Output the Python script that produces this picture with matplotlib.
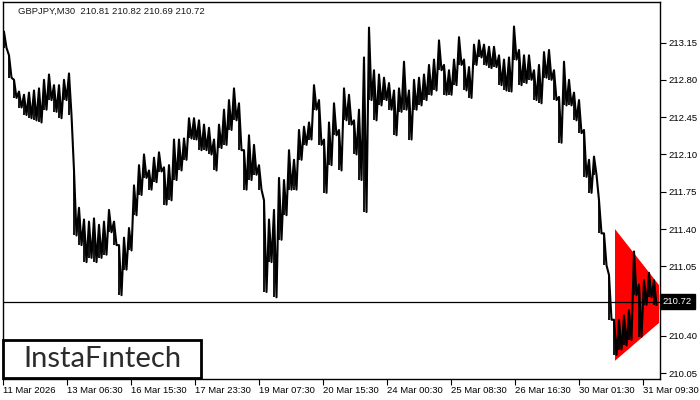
import matplotlib
matplotlib.use('Agg')
import matplotlib.pyplot as plt
from matplotlib.patches import Polygon, Rectangle

# maximos y minimos (cada 5 velas de 30 min)
maximos = [213.25, 213.03, 212.80, 212.69, 212.66, 212.68, 212.70, 212.72, 212.80, 212.85,
           212.75, 212.75, 212.80, 212.86, 211.95, 211.60, 211.49, 211.47, 211.50, 211.44,
           211.47, 211.58, 211.47, 211.25, 211.32, 211.41, 211.81, 212.00, 212.10, 211.95,
           212.07, 212.12, 211.98, 212.00, 212.24, 212.24, 212.25, 212.44, 212.44, 212.42,
           212.38, 212.35, 212.24, 212.38, 212.52, 212.61, 212.72, 212.58, 212.14, 212.28,
           212.19, 212.00, 211.67, 211.49, 211.58, 211.88, 211.86, 212.14, 212.05, 212.33,
           212.36, 212.40, 212.75, 212.61, 212.24, 212.40, 212.58, 212.33, 212.72, 212.66,
           212.42, 212.52, 213.01, 213.29, 212.89, 212.85, 212.82, 212.77, 212.70, 212.72,
           212.97, 212.70, 212.80, 212.82, 212.85, 212.94, 212.99, 213.17, 212.94, 212.89,
           212.99, 213.20, 212.99, 212.92, 213.13, 213.17, 213.13, 213.11, 213.11, 213.03,
           212.99, 213.01, 213.30, 213.08, 213.03, 213.03, 212.89, 212.94, 213.06, 213.08,
           212.89, 212.64, 212.97, 212.80, 212.68, 212.61, 212.33, 212.05, 212.08, 211.67,
           211.36, 210.97, 210.55, 210.55, 210.59, 210.64, 211.19, 210.88, 210.92, 210.99,
           210.92]
minimos = [213.10, 212.82, 212.63, 212.54, 212.47, 212.44, 212.42, 212.40, 212.52, 212.61,
           212.50, 212.44, 212.61, 212.47, 211.34, 211.25, 211.09, 211.13, 211.09, 211.13,
           211.16, 211.37, 211.25, 210.78, 211.02, 211.20, 211.53, 211.72, 211.88, 211.77,
           211.84, 211.94, 211.63, 211.67, 211.86, 211.95, 212.05, 212.25, 212.24, 212.14,
           212.14, 212.10, 211.95, 212.16, 212.19, 212.33, 212.42, 212.14, 211.77, 211.86,
           211.91, 211.77, 210.81, 211.09, 210.76, 211.30, 211.53, 211.77, 211.77, 212.05,
           212.19, 212.24, 212.52, 212.19, 211.74, 212.00, 212.28, 211.95, 212.42, 212.38,
           212.10, 211.86, 211.56, 212.61, 212.42, 212.56, 212.61, 212.52, 212.28, 212.50,
           212.52, 212.24, 212.52, 212.56, 212.61, 212.66, 212.70, 212.89, 212.66, 212.66,
           212.75, 212.94, 212.70, 212.63, 212.94, 213.01, 212.94, 212.91, 212.92, 212.75,
           212.70, 212.69, 212.99, 212.75, 212.77, 212.80, 212.61, 212.58, 212.82, 212.80,
           212.61, 212.21, 212.56, 212.56, 212.42, 212.30, 211.89, 211.74, 211.91, 211.36,
           211.06, 210.55, 210.22, 210.27, 210.31, 210.36, 210.78, 210.39, 210.69, 210.76,
           210.69]

etiquetas_x = ['11 Mar 2026', '13 Mar 06:30', '16 Mar 15:30', '17 Mar 23:30', '19 Mar 07:30',
               '20 Mar 15:30', '24 Mar 00:30', '25 Mar 08:30', '26 Mar 16:30', '30 Mar 01:30',
               '31 Mar 09:30']
precios_y = [213.15, 212.80, 212.45, 212.10, 211.75, 211.40, 211.05, 210.40, 210.05]

# triangulo simetrico (vela inicio, vela fin, techo, suelo)
tri_inicio, tri_fin = 612, 656
tri_techo = [211.40, 210.875]
tri_suelo = [210.165, 210.52]

precio_actual = 210.72
titulo = 'GBPJPY,M30  210.81 210.82 210.69 210.72'

velas_por_muestra = 5
velas_por_etiqueta = 64

x = [1 + velas_por_muestra * i for i in range(len(maximos))]
# zigzag maximo -> minimo para imitar las barras
xz, yz = [], []
for i in range(len(maximos)):
    xz += [x[i], x[i] + velas_por_muestra / 2]
    yz += [maximos[i], minimos[i]]

fuente = 'Liberation Sans'

fig = plt.figure(figsize=(7, 4), dpi=100)
ax = fig.add_axes([3 / 700, 21 / 400, 657 / 700, 377 / 400])
ax.set_xlim(0, 657)
ax.set_ylim(209.994, 213.530)

# triangulo rojo
tri = Polygon([(tri_inicio, tri_techo[0]), (tri_fin, tri_techo[1]),
               (tri_fin, tri_suelo[1]), (tri_inicio, tri_suelo[0])],
              closed=True, facecolor='#ff0000', edgecolor='none', zorder=1)
ax.add_patch(tri)

# velas
ax.plot(xz, yz, color='black', linewidth=1.5, zorder=3)
ax.vlines(x, minimos, maximos, color='black', linewidth=1.3, zorder=3)

# linea del precio actual
ax.axhline(precio_actual, color='black', linewidth=0.9, zorder=2)

# ejes estilo metatrader
for s in ax.spines.values():
    s.set_linewidth(1.0)
ax.yaxis.tick_right()
ax.set_yticks(precios_y)
ax.set_yticklabels(['%.2f' % p for p in precios_y], family=fuente)
ax.set_xticks([velas_por_etiqueta * i for i in range(len(etiquetas_x))])
ax.set_xticklabels(etiquetas_x, ha='left', family=fuente)
ax.tick_params(axis='both', direction='out', length=4, width=0.8, labelsize=6.8,
               colors='black', pad=2)
ax.tick_params(axis='x', pad=1)

# cartel del precio
ax.text(1.004, precio_actual, '210.72', transform=ax.get_yaxis_transform(),
        ha='left', va='center', fontsize=6.8, color='white', zorder=10, family=fuente,
        bbox=dict(boxstyle='square,pad=0.3', facecolor='black', edgecolor='black'))

# titulo arriba a la izquierda
ax.text(15 / 657, 0.976, titulo, transform=ax.transAxes, ha='left', va='center',
        fontsize=6.8, color='#1a1a1a', family=fuente)

# logo
logo = Rectangle((3 / 700, 22 / 400), 198 / 700, 38 / 400, transform=fig.transFigure,
                 facecolor='white', edgecolor='black', linewidth=2, zorder=20)
fig.patches.append(logo)
fig.text(102 / 700, 41 / 400, 'InstaF\u0131ntech', ha='center', va='center',
         fontsize=21, color='#2b2b2b', family='Lato', zorder=21)

plt.savefig('out.png', dpi=100)
